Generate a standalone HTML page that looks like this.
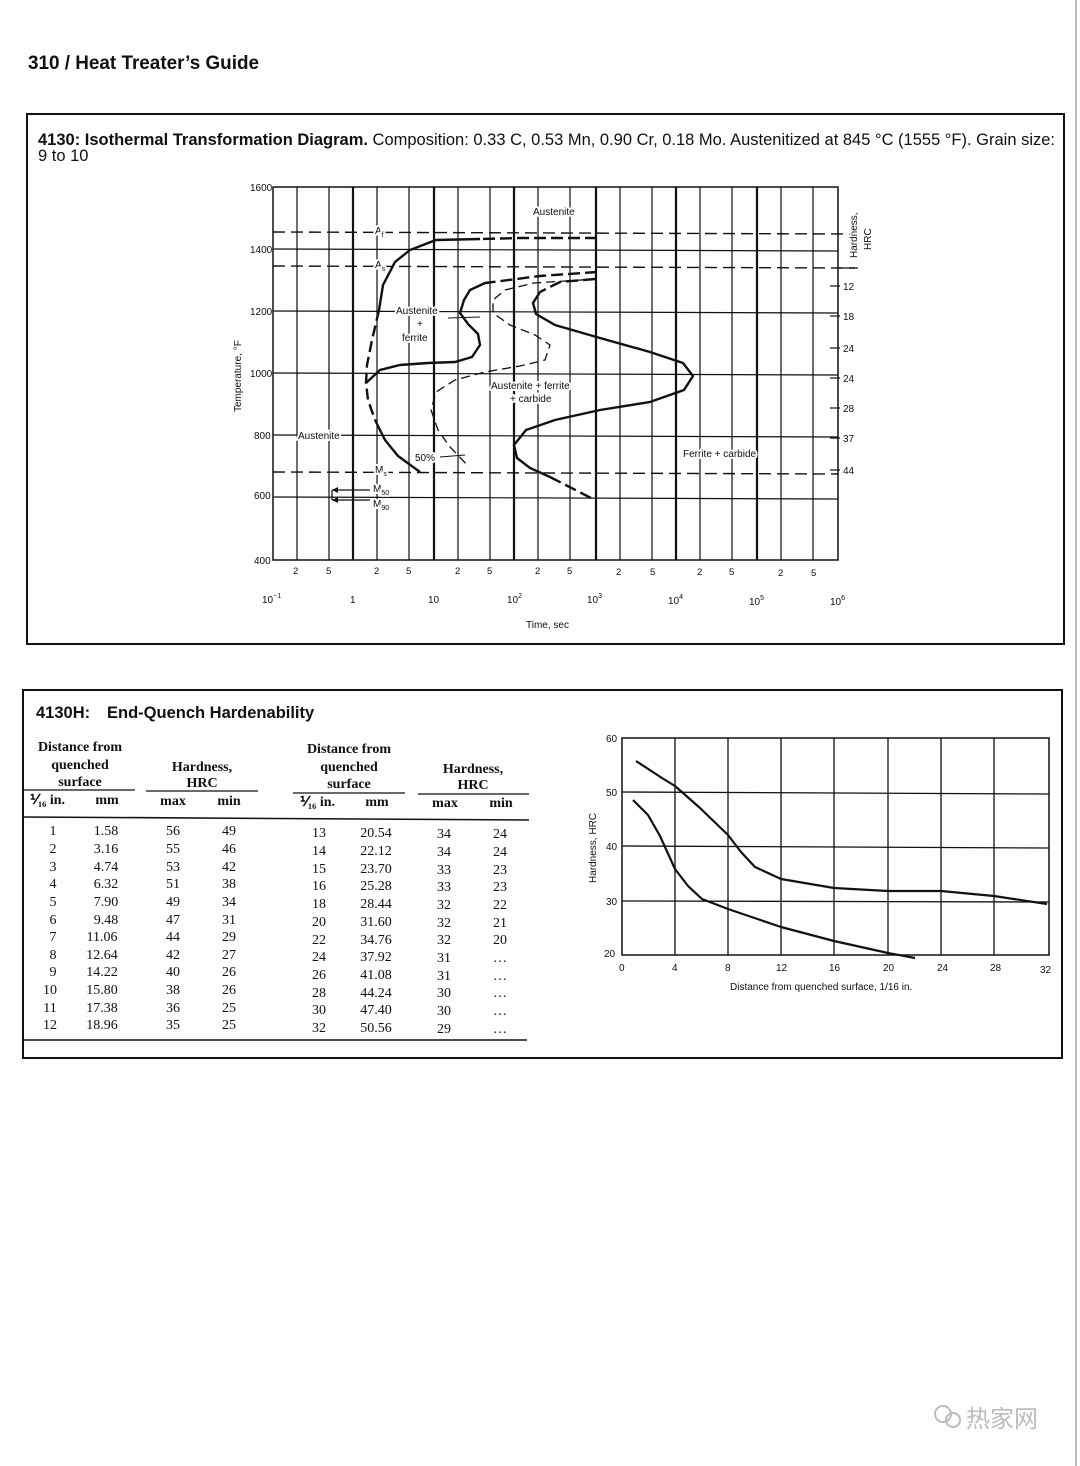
<!DOCTYPE html>
<html><head><meta charset="utf-8"><style>
html,body{margin:0;padding:0;background:#fff;}
svg{display:block;}
text{font-family:"Liberation Sans",sans-serif;fill:#111;}
.s{font-family:"Liberation Serif",serif;font-size:14px;}
.sb{font-family:"Liberation Serif",serif;font-size:14px;font-weight:bold;}
.h{paint-order:stroke;stroke:#fdfdfd;stroke-width:4px;stroke-linejoin:round;}
</style></head><body>
<svg width="1080" height="1466" viewBox="0 0 1080 1466" xmlns="http://www.w3.org/2000/svg">
<rect width="1080" height="1466" fill="#fdfdfd"/>
<line x1="1076" y1="0" x2="1076" y2="1466" stroke="#bbb" stroke-width="2"/>
<text x="28" y="69" font-size="19" font-weight="bold" textLength="231" lengthAdjust="spacingAndGlyphs">310 / Heat Treater’s Guide</text>

<rect x="27" y="114" width="1037" height="530" fill="none" stroke="#111" stroke-width="2"/>
<text x="38" y="145" font-size="16.5" textLength="1017" lengthAdjust="spacingAndGlyphs"><tspan font-weight="bold">4130: Isothermal Transformation Diagram.</tspan> Composition: 0.33 C, 0.53 Mn, 0.90 Cr, 0.18 Mo. Austenitized at 845 °C (1555 °F). Grain size:</text>
<text x="38" y="161" font-size="16.5">9 to 10</text>

<g stroke="#111" fill="none">
<rect x="273" y="187" width="565" height="373" stroke-width="1.5"/>
<g stroke-width="1.2">
<line x1="297" y1="187" x2="297" y2="560"/><line x1="329" y1="187" x2="329" y2="560"/>
<line x1="377" y1="187" x2="377" y2="560"/><line x1="409" y1="187" x2="409" y2="560"/>
<line x1="458" y1="187" x2="458" y2="560"/><line x1="490" y1="187" x2="490" y2="560"/>
<line x1="538" y1="187" x2="538" y2="560"/><line x1="570" y1="187" x2="570" y2="560"/>
<line x1="620" y1="187" x2="620" y2="560"/><line x1="652" y1="187" x2="652" y2="560"/>
<line x1="700" y1="187" x2="700" y2="560"/><line x1="732" y1="187" x2="732" y2="560"/>
<line x1="781" y1="187" x2="781" y2="560"/><line x1="813" y1="187" x2="813" y2="560"/>
</g>
<g stroke-width="2.2">
<line x1="353" y1="187" x2="353" y2="560"/><line x1="434" y1="187" x2="434" y2="560"/>
<line x1="514" y1="187" x2="514" y2="560"/><line x1="596" y1="187" x2="596" y2="560"/>
<line x1="676" y1="187" x2="676" y2="560"/><line x1="757" y1="187" x2="757" y2="560"/>
</g>
<g stroke-width="1.2">
<line x1="273" y1="249" x2="838" y2="251"/><line x1="273" y1="311" x2="838" y2="313"/>
<line x1="273" y1="373" x2="838" y2="375"/><line x1="273" y1="435" x2="838" y2="437"/>
<line x1="273" y1="497" x2="838" y2="499"/>
</g>
<g stroke-width="1.4" stroke-dasharray="12,6">
<line x1="273" y1="232" x2="852" y2="234"/>
<line x1="273" y1="266" x2="855" y2="268"/>
<line x1="273" y1="472" x2="838" y2="474"/>
</g>
<line x1="838" y1="268" x2="858" y2="268" stroke-width="1.2"/>
<g stroke-width="1.2">
<line x1="830" y1="286" x2="840" y2="286"/><line x1="830" y1="316" x2="840" y2="316"/>
<line x1="830" y1="348" x2="840" y2="348"/><line x1="830" y1="378" x2="840" y2="378"/>
<line x1="830" y1="408" x2="840" y2="408"/><line x1="830" y1="438" x2="840" y2="438"/>
<line x1="830" y1="470" x2="840" y2="470"/>
</g>
<line x1="332" y1="490" x2="370" y2="490" stroke-width="1.2"/>
<line x1="332" y1="500" x2="370" y2="500" stroke-width="1.2"/>
<line x1="332" y1="490" x2="332" y2="500" stroke-width="1.2"/>

<path d="M597 238 L520 238 L480 239" stroke-width="2.4" stroke-dasharray="12,5"/>
<path d="M480 239 L436 240 L410 250 L395 262 L383 285 L379 310" stroke-width="2.4"/>
<path d="M379 310 L372 340 L367 365 L366 383 L368 400 L375 420" stroke-width="2.4" stroke-dasharray="11,5"/>
<path d="M375 420 L385 440 L398 456 L420 472" stroke-width="2.4"/>
<path d="M597 272 L540 276 L485 283" stroke-width="2.4" stroke-dasharray="12,5"/>
<path d="M485 283 L470 290 L464 300 L460 313 L468 324 L478 334 L480 345 L472 357 L455 362 L428 363 L400 365 L380 370 L366 383" stroke-width="2.4"/>
<path d="M597 279 L534 283 L505 290 L493 300 L493 313 L510 325 L535 335 L550 345 L545 360 L520 366 L485 372 L455 380 L436 392 L431 410 L438 430 L450 447 L469 467" stroke-width="1.3" stroke-dasharray="9,5"/>
<path d="M595 279 L560 282 L540 292" stroke-width="2.4" stroke-dasharray="12,5"/>
<path d="M540 292 L533 303 L536 314 L555 325 L600 338 L650 352 L683 363 L693 376 L684 390 L650 402 L600 410 L555 420 L526 430 L514 445 L517 458 L530 468 L550 477" stroke-width="2.4"/>
<path d="M550 477 L591 498" stroke-width="2.4" stroke-dasharray="12,5"/>
<line x1="440" y1="457" x2="465" y2="455" stroke-width="1"/>
<line x1="448" y1="318" x2="480" y2="317" stroke-width="1"/>
</g>
<polygon points="332,490 338,487 338,493" fill="#111"/>
<polygon points="332,500 338,497 338,503" fill="#111"/>

<g font-size="10">
<text x="250" y="191">1600</text><text x="250" y="253">1400</text><text x="250" y="315">1200</text>
<text x="250" y="377">1000</text><text x="254" y="439">800</text><text x="254" y="499">600</text><text x="254" y="564">400</text>
<g font-size="9.5">
<text x="293" y="574">2</text><text x="326" y="574">5</text><text x="374" y="574">2</text><text x="406" y="574">5</text>
<text x="455" y="574">2</text><text x="487" y="574">5</text><text x="535" y="574">2</text><text x="567" y="574">5</text>
<text x="616" y="575">2</text><text x="650" y="575">5</text><text x="697" y="575">2</text><text x="729" y="575">5</text>
<text x="778" y="576">2</text><text x="811" y="576">5</text>
</g>
<text x="262" y="603">10<tspan font-size="7" dy="-5">−1</tspan></text>
<text x="350" y="603">1</text><text x="428" y="603">10</text>
<text x="507" y="603">10<tspan font-size="7" dy="-5">2</tspan></text>
<text x="587" y="603">10<tspan font-size="7" dy="-5">3</tspan></text>
<text x="668" y="604">10<tspan font-size="7" dy="-5">4</tspan></text>
<text x="749" y="605">10<tspan font-size="7" dy="-5">5</tspan></text>
<text x="830" y="605">10<tspan font-size="7" dy="-5">6</tspan></text>
<text x="526" y="628">Time, sec</text>
<text transform="translate(241,412) rotate(-90)">Temperature, °F</text>
<text class="h" transform="translate(857,258) rotate(-90)">Hardness,</text>
<text class="h" transform="translate(871,250) rotate(-90)">HRC</text>
<text x="843" y="290">12</text><text x="843" y="320">18</text><text x="843" y="352">24</text>
<text x="843" y="382">24</text><text x="843" y="412">28</text><text x="843" y="442">37</text><text x="843" y="474">44</text>
<text class="h" x="533" y="215">Austenite</text>
<text class="h" x="375" y="234">A<tspan font-size="7" dy="3">f</tspan></text>
<text class="h" x="375" y="268">A<tspan font-size="7" dy="3">s</tspan></text>
<text class="h" x="396" y="314">Austenite</text>
<text class="h" x="417" y="327">+</text>
<text class="h" x="402" y="341">ferrite</text>
<text class="h" x="491" y="389">Austenite + ferrite</text>
<text class="h" x="510" y="402">+ carbide</text>
<text class="h" x="298" y="439">Austenite</text>
<text class="h" x="415" y="461">50%</text>
<text class="h" x="683" y="457">Ferrite + carbide</text>
<text class="h" x="375" y="473">M<tspan font-size="7" dy="3">s</tspan></text>
<text class="h" x="373" y="492">M<tspan font-size="7" dy="3">50</tspan></text>
<text class="h" x="373" y="507">M<tspan font-size="7" dy="3">90</tspan></text>
</g>

<rect x="23" y="690" width="1039" height="368" fill="none" stroke="#111" stroke-width="2"/>
<text x="36" y="718" font-size="16.5" font-weight="bold">4130H:<tspan x="107">End-Quench Hardenability</tspan></text>
<g text-anchor="middle">
<text class="sb" x="80" y="751">Distance from</text><text class="sb" x="80" y="769">quenched</text><text class="sb" x="80" y="786">surface</text>
<text class="sb" x="202" y="771">Hardness,</text><text class="sb" x="202" y="787">HRC</text>
<text class="sb" x="349" y="753">Distance from</text><text class="sb" x="349" y="771">quenched</text><text class="sb" x="349" y="788">surface</text>
<text class="sb" x="473" y="773">Hardness,</text><text class="sb" x="473" y="789">HRC</text>
<text class="sb" x="173" y="805">max</text><text class="sb" x="229" y="805">min</text>
<text class="sb" x="107" y="804">mm</text><text class="sb" x="377" y="806">mm</text>
<text class="sb" x="445" y="807">max</text><text class="sb" x="501" y="807">min</text>
</g>
<text class="sb" x="30" y="804">⅟₁₆ in.</text>
<text class="sb" x="300" y="806">⅟₁₆ in.</text>
<g stroke="#111" stroke-width="1.2">
<line x1="24" y1="790" x2="135" y2="790"/><line x1="146" y1="791" x2="258" y2="791"/>
<line x1="293" y1="793" x2="405" y2="793"/><line x1="418" y1="794" x2="529" y2="794"/>
<line x1="24" y1="817" x2="529" y2="820" stroke-width="1.6"/>
<line x1="24" y1="1040" x2="527" y2="1040" stroke-width="1.6"/>
</g>
<g class="s" text-anchor="middle">
<text class="s" x="53" y="835">1</text><text class="s" x="53" y="853">2</text><text class="s" x="53" y="871">3</text><text class="s" x="53" y="888">4</text><text class="s" x="53" y="906">5</text><text class="s" x="53" y="924">6</text><text class="s" x="53" y="941">7</text><text class="s" x="53" y="959">8</text><text class="s" x="53" y="976">9</text><text class="s" x="50" y="994">10</text><text class="s" x="50" y="1012">11</text><text class="s" x="50" y="1029">12</text>
<text class="s" x="106" y="835">1.58</text><text class="s" x="106" y="853">3.16</text><text class="s" x="106" y="871">4.74</text><text class="s" x="106" y="888">6.32</text><text class="s" x="106" y="906">7.90</text><text class="s" x="106" y="924">9.48</text><text class="s" x="102" y="941">11.06</text><text class="s" x="102" y="959">12.64</text><text class="s" x="102" y="976">14.22</text><text class="s" x="102" y="994">15.80</text><text class="s" x="102" y="1012">17.38</text><text class="s" x="102" y="1029">18.96</text>
<text class="s" x="173" y="835">56</text><text class="s" x="173" y="853">55</text><text class="s" x="173" y="871">53</text><text class="s" x="173" y="888">51</text><text class="s" x="173" y="906">49</text><text class="s" x="173" y="924">47</text><text class="s" x="173" y="941">44</text><text class="s" x="173" y="959">42</text><text class="s" x="173" y="976">40</text><text class="s" x="173" y="994">38</text><text class="s" x="173" y="1012">36</text><text class="s" x="173" y="1029">35</text>
<text class="s" x="229" y="835">49</text><text class="s" x="229" y="853">46</text><text class="s" x="229" y="871">42</text><text class="s" x="229" y="888">38</text><text class="s" x="229" y="906">34</text><text class="s" x="229" y="924">31</text><text class="s" x="229" y="941">29</text><text class="s" x="229" y="959">27</text><text class="s" x="229" y="976">26</text><text class="s" x="229" y="994">26</text><text class="s" x="229" y="1012">25</text><text class="s" x="229" y="1029">25</text>
<text class="s" x="319" y="837">13</text><text class="s" x="319" y="855">14</text><text class="s" x="319" y="873">15</text><text class="s" x="319" y="890">16</text><text class="s" x="319" y="908">18</text><text class="s" x="319" y="926">20</text><text class="s" x="319" y="944">22</text><text class="s" x="319" y="961">24</text><text class="s" x="319" y="979">26</text><text class="s" x="319" y="997">28</text><text class="s" x="319" y="1014">30</text><text class="s" x="319" y="1032">32</text>
<text class="s" x="376" y="837">20.54</text><text class="s" x="376" y="855">22.12</text><text class="s" x="376" y="873">23.70</text><text class="s" x="376" y="890">25.28</text><text class="s" x="376" y="908">28.44</text><text class="s" x="376" y="926">31.60</text><text class="s" x="376" y="944">34.76</text><text class="s" x="376" y="961">37.92</text><text class="s" x="376" y="979">41.08</text><text class="s" x="376" y="997">44.24</text><text class="s" x="376" y="1014">47.40</text><text class="s" x="376" y="1032">50.56</text>
<text class="s" x="444" y="838">34</text><text class="s" x="444" y="856">34</text><text class="s" x="444" y="874">33</text><text class="s" x="444" y="891">33</text><text class="s" x="444" y="909">32</text><text class="s" x="444" y="927">32</text><text class="s" x="444" y="944">32</text><text class="s" x="444" y="962">31</text><text class="s" x="444" y="980">31</text><text class="s" x="444" y="997">30</text><text class="s" x="444" y="1015">30</text><text class="s" x="444" y="1033">29</text>
<text class="s" x="500" y="838">24</text><text class="s" x="500" y="856">24</text><text class="s" x="500" y="874">23</text><text class="s" x="500" y="891">23</text><text class="s" x="500" y="909">22</text><text class="s" x="500" y="927">21</text><text class="s" x="500" y="944">20</text><text class="s" x="500" y="962">…</text><text class="s" x="500" y="980">…</text><text class="s" x="500" y="997">…</text><text class="s" x="500" y="1015">…</text><text class="s" x="500" y="1033">…</text>
</g>

<g stroke="#111" fill="none" stroke-width="1.3">
<rect x="622" y="738" width="427" height="217" stroke-width="1.5"/>
<line x1="675" y1="738" x2="675" y2="955"/><line x1="728" y1="738" x2="728" y2="955"/>
<line x1="781" y1="738" x2="781" y2="955"/><line x1="834" y1="738" x2="834" y2="955"/>
<line x1="888" y1="738" x2="888" y2="955"/><line x1="941" y1="738" x2="941" y2="955"/>
<line x1="994" y1="738" x2="994" y2="955"/>
<line x1="622" y1="792" x2="1049" y2="794"/><line x1="622" y1="846" x2="1049" y2="848"/>
<line x1="622" y1="901" x2="1049" y2="902"/>
<path d="M636 761 L662 778 L675 786 L700 808 L728 835 L741 852 L755 867 L781 879 L834 888 L888 891 L941 891 L994 896 L1047 904" stroke-width="2.2" stroke-linejoin="round"/>
<path d="M633 800 L648 815 L660 836 L675 869 L688 886 L702 899 L728 909 L781 927 L834 941 L888 953 L915 958" stroke-width="2.2" stroke-linejoin="round"/>
</g>
<g font-size="10">
<text x="606" y="742">60</text><text x="606" y="796">50</text><text x="606" y="850">40</text><text x="606" y="905">30</text><text x="604" y="957">20</text>
<text x="619" y="971">0</text><text x="672" y="971">4</text><text x="725" y="971">8</text><text x="776" y="971">12</text>
<text x="829" y="971">16</text><text x="883" y="971">20</text><text x="937" y="971">24</text><text x="990" y="971">28</text><text x="1040" y="973">32</text>
<text x="730" y="990">Distance from quenched surface, 1/16 in.</text>
<text transform="translate(596,883) rotate(-90)">Hardness, HRC</text>
</g>

<g opacity="0.55">
<circle cx="943" cy="1414" r="8" fill="none" stroke="#888" stroke-width="2"/>
<circle cx="953" cy="1420" r="7" fill="none" stroke="#888" stroke-width="2"/>
<text x="966" y="1427" font-size="24" style="font-family:'Liberation Sans','Noto Sans CJK SC',sans-serif;fill:#888">热家网</text>
</g>
</svg>
</body></html>
